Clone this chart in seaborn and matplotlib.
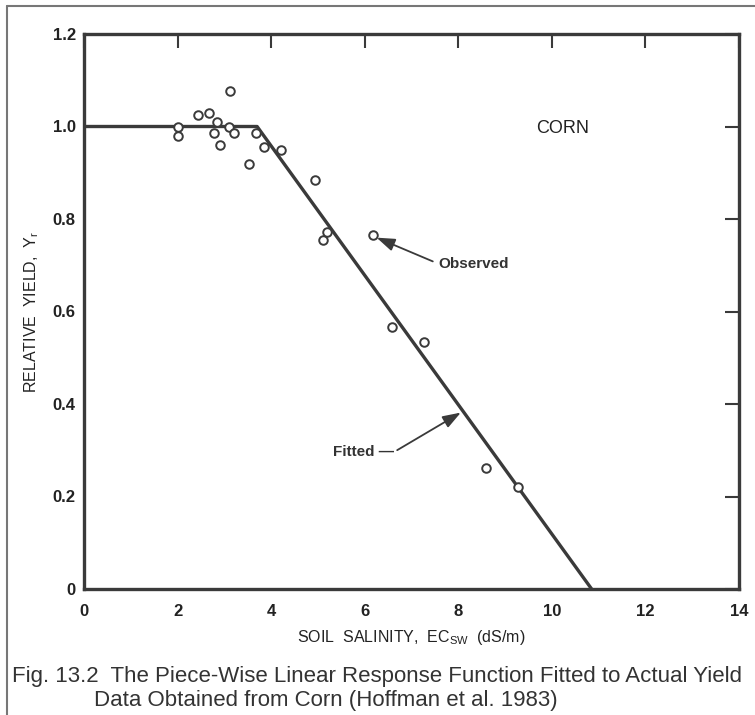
import numpy as np
import pandas as pd
import matplotlib
matplotlib.use("Agg")
import matplotlib.pyplot as plt
import seaborn as sns
from matplotlib.lines import Line2D

# observed corn yield vs soil salinity
salinity = [2.0, 2.0, 2.44, 2.68, 2.77, 2.85, 2.9, 3.09, 3.13, 3.2, 3.52, 3.67, 3.84,
            4.2, 4.93, 5.1, 5.2, 6.17, 6.58, 7.27, 8.6, 9.28]
rel_yield = [1.0, 0.98, 1.025, 1.03, 0.985, 1.01, 0.96, 1.0, 1.077, 0.985, 0.92, 0.985,
             0.955, 0.95, 0.885, 0.755, 0.772, 0.765, 0.566, 0.534, 0.262, 0.221]

# piece-wise linear response
fit_x = [0.0, 3.7, 10.85]
fit_y = [1.0, 1.0, 0.0]

x_ticks = [0, 2, 4, 6, 8, 10, 12, 14]
y_ticks = [0, 0.2, 0.4, 0.6, 0.8, 1.0, 1.2]
y_tick_labels = ["0", "0.2", "0.4", "0.6", "0.8", "1.0", "1.2"]

obs = pd.DataFrame({"salinity": salinity, "yield": rel_yield})
fit = pd.DataFrame({"salinity": fit_x, "yield": fit_y})

sns.set_style("white")
plt.rcParams["font.family"] = ["Liberation Sans", "DejaVu Sans"]

ink = "#3a3a3a"
fig = plt.figure(figsize=(7.55, 7.15), dpi=100)
ax = fig.add_axes([84 / 755, 1 - 589 / 715, (739 - 84) / 755, (589 - 34) / 715])

sns.lineplot(data=fit, x="salinity", y="yield", ax=ax, color=ink, lw=2.4, sort=False)
sns.scatterplot(data=obs, x="salinity", y="yield", ax=ax, marker="o", s=38,
                facecolor="white", edgecolor=ink, linewidth=1.4, zorder=3)

ax.set_xlim(0, 14)
ax.set_ylim(0, 1.2)
ax.set_xticks(x_ticks)
ax.set_xticklabels([str(t) for t in x_ticks])
ax.set_yticks(y_ticks)
ax.set_yticklabels(y_tick_labels)
ax.tick_params(direction="in", length=10, width=1.5, color=ink, top=True, right=True,
               labelsize=12, labelcolor="#222222")
ax.tick_params(axis="x", pad=11)
ax.tick_params(axis="y", pad=6)
for lab in ax.get_xticklabels() + ax.get_yticklabels():
    lab.set_fontweight("bold")
for sp in ax.spines.values():
    sp.set_linewidth(2.4)
    sp.set_color(ink)

ax.set_xlabel("SOIL  SALINITY,  EC$_{\\mathregular{SW}}$  (dS/m)", fontsize=11.5,
              color="#222222", labelpad=6)
ax.set_ylabel("RELATIVE  YIELD,  Y$_{\\mathregular{r}}$", fontsize=11.5,
              color="#222222", labelpad=8)

ax.text(10.22, 0.995, "CORN", fontsize=13, color="#222222", va="center", ha="center")

ax.annotate("Observed", xy=(6.2, 0.762), xytext=(7.58, 0.703), fontsize=11, fontweight="bold",
            color="#333333", va="center", ha="left",
            arrowprops=dict(arrowstyle="-|>,head_length=1.0,head_width=0.35", color=ink, lw=1.3,
                            shrinkA=2, shrinkB=2, relpos=(0, 0.5)))
ax.annotate("Fitted —", xy=(8.08, 0.383), xytext=(5.32, 0.296), fontsize=11, fontweight="bold",
            color="#333333", va="center", ha="left",
            arrowprops=dict(arrowstyle="-|>,head_length=1.0,head_width=0.35", color=ink, lw=1.3,
                            shrinkA=0, shrinkB=1, relpos=(1, 0.5)))
ax.set_facecolor("white")

# frame of the scanned page
fig.add_artist(Line2D([7 / 755, 1], [1 - 6 / 715, 1 - 6 / 715], color="#777777", lw=1.5))
fig.add_artist(Line2D([7 / 755, 7 / 755], [0, 1 - 6 / 715], color="#777777", lw=1.5))

cap = dict(fontsize=16, color="#333333")
fig.text(12 / 755, 1 - 682 / 715, "Fig. 13.2  The Piece-Wise Linear Response Function Fitted to Actual Yield", **cap)
fig.text(94 / 755, 1 - 706 / 715, "Data Obtained from Corn (Hoffman et al. 1983)", **cap)

fig.savefig("out.png", dpi=100, facecolor="white")
